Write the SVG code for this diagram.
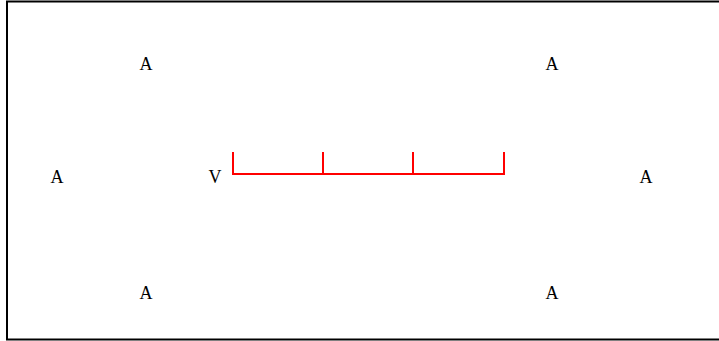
<svg xmlns="http://www.w3.org/2000/svg" width="719" height="341" viewBox="0 0 719 341">
<style>
.t{font-family:"Liberation Serif","Times New Roman",serif;font-size:18px;fill:#000;text-anchor:middle}
.r{stroke:#f00;stroke-width:2;fill:none}
</style>
<rect x="0" y="0" width="719" height="341" fill="#fff"/>
<rect x="7" y="1.5" width="714" height="338" fill="none" stroke="#000" stroke-width="2"/>
<g id="n1"><text class="t" x="146" y="70">A</text></g>
<g id="n2"><text class="t" x="552" y="70">A</text></g>
<g id="n3"><text class="t" x="57" y="183">A</text></g>
<g id="n4"><text class="t" x="215" y="183">V</text></g>
<g id="n5"><text class="t" x="646" y="183">A</text></g>
<g id="n6"><text class="t" x="146" y="299">A</text></g>
<g id="n7"><text class="t" x="552" y="299">A</text></g>
<g id="connectors">
<path class="r" d="M233 152V174H504V152M323 152V174M413 152V174"/>
</g>
</svg>
